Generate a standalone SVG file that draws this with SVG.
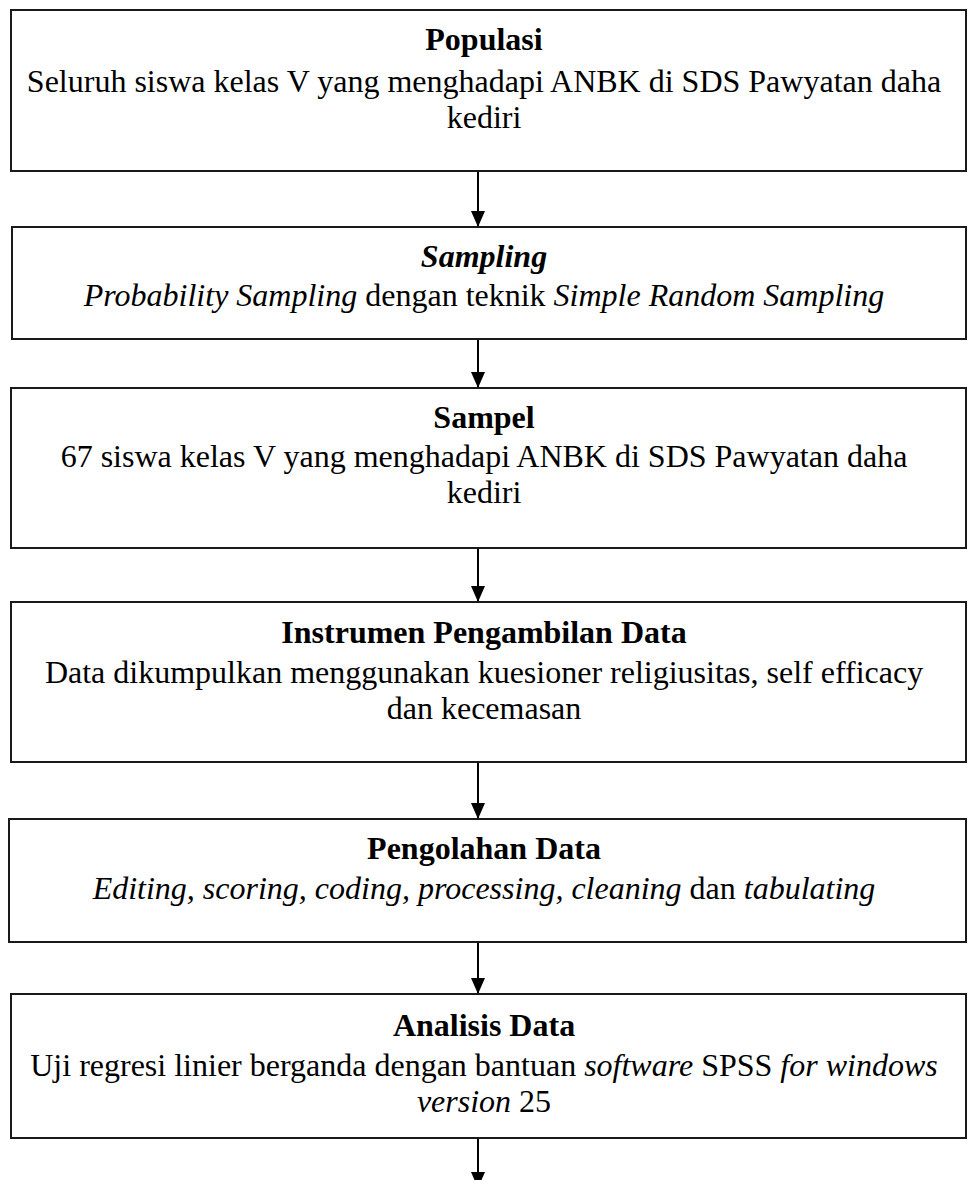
<svg xmlns="http://www.w3.org/2000/svg" width="968" height="1180" viewBox="0 0 968 1180">
<style>
.box{fill:#fff;stroke:#1a1a1a;stroke-width:2}
.t{font-family:"Liberation Serif","Times New Roman",serif;font-size:32px;fill:#000;text-anchor:middle}
.b{font-weight:bold}
.i{font-style:italic}
.c{stroke:#000;stroke-width:2;fill:none}
</style>
<defs>
<marker id="ah" markerWidth="16" markerHeight="14" refX="16" refY="7" orient="auto" markerUnits="userSpaceOnUse" viewBox="0 0 16 14">
<path d="M0,0 L16,7 L0,14 Z" fill="#000"/>
</marker>
</defs>
<rect width="968" height="1180" fill="#fff"/>
<g id="connectors">
<line class="c" x1="478" y1="171" x2="478" y2="227" marker-end="url(#ah)"/>
<line class="c" x1="478" y1="339" x2="478" y2="388" marker-end="url(#ah)"/>
<line class="c" x1="478" y1="548" x2="478" y2="602" marker-end="url(#ah)"/>
<line class="c" x1="478" y1="762" x2="478" y2="819" marker-end="url(#ah)"/>
<line class="c" x1="478" y1="942" x2="478" y2="994" marker-end="url(#ah)"/>
<line class="c" x1="478" y1="1138" x2="478" y2="1188" marker-end="url(#ah)"/>
</g>
<g id="populasi">
<rect class="box" x="11" y="10" width="955" height="161"/>
<text class="t b" x="484" y="50">Populasi</text>
<text class="t" x="484" y="92">Seluruh siswa kelas V yang menghadapi ANBK di SDS Pawyatan daha</text>
<text class="t" x="484" y="128">kediri</text>
</g>
<g id="sampling">
<rect class="box" x="12" y="227" width="954" height="112"/>
<text class="t b i" x="484" y="267">Sampling</text>
<text class="t" x="484" y="306"><tspan class="i">Probability Sampling</tspan> dengan teknik <tspan class="i">Simple Random Sampling</tspan></text>
</g>
<g id="sampel">
<rect class="box" x="11" y="388" width="955" height="160"/>
<text class="t b" x="484" y="428">Sampel</text>
<text class="t" x="484" y="467">67 siswa kelas V yang menghadapi ANBK di SDS Pawyatan daha</text>
<text class="t" x="484" y="503">kediri</text>
</g>
<g id="instrumen">
<rect class="box" x="11" y="602" width="955" height="160"/>
<text class="t b" x="484" y="643">Instrumen Pengambilan Data</text>
<text class="t" x="484" y="683">Data dikumpulkan menggunakan kuesioner religiusitas, self efficacy</text>
<text class="t" x="484" y="719">dan kecemasan</text>
</g>
<g id="pengolahan">
<rect class="box" x="9" y="819" width="957" height="123"/>
<text class="t b" x="484" y="859">Pengolahan Data</text>
<text class="t" x="484" y="899"><tspan class="i">Editing, scoring, coding, processing, cleaning</tspan> dan <tspan class="i">tabulating</tspan></text>
</g>
<g id="analisis">
<rect class="box" x="11" y="994" width="955" height="144"/>
<text class="t b" x="484" y="1036">Analisis Data</text>
<text class="t" x="484" y="1076">Uji regresi linier berganda dengan bantuan <tspan class="i">software</tspan> SPSS <tspan class="i">for windows</tspan></text>
<text class="t" x="484" y="1112"><tspan class="i">version</tspan> 25</text>
</g>
</svg>
